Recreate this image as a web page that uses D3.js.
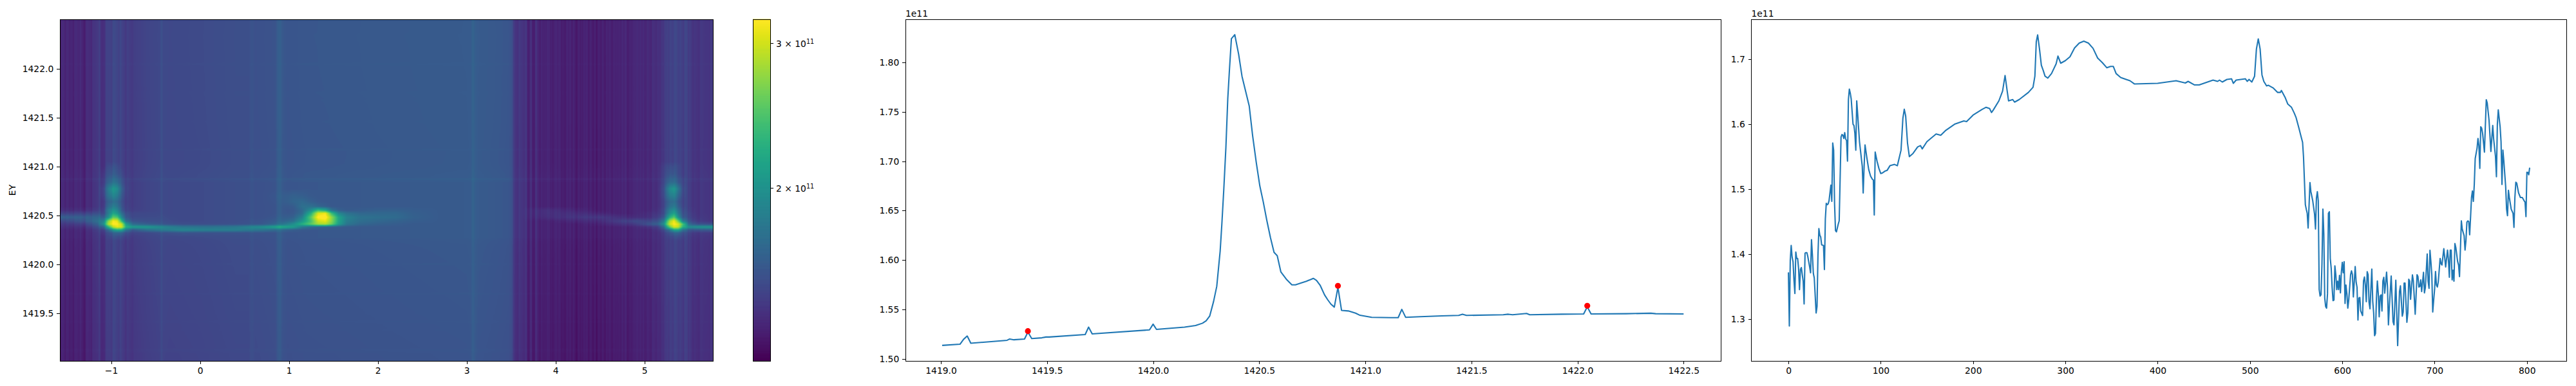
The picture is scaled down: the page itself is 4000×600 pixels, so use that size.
<!DOCTYPE html>
<html><head><meta charset="utf-8">
<script src="https://cdn.jsdelivr.net/npm/d3@7/dist/d3.min.js"></script>
<style>html,body{margin:0;padding:0;background:#fff}svg{display:block}text{font-family:"DejaVu Sans",sans-serif;font-size:13.89px;fill:#000}</style>
</head><body><svg id="fig" width="4000" height="600"></svg>
<script>
// EDC: energy, intensity (1e11)
const edcPoints=[[1419.006,1.5135],[1419.09,1.5147],[1419.107,1.5197],[1419.124,1.523],[1419.141,1.5157],[1419.2,1.5167],[1419.312,1.5187],[1419.324,1.52],[1419.344,1.5192],[1419.394,1.52],[1419.41,1.527],[1419.428,1.5205],[1419.476,1.5212],[1419.495,1.522],[1419.51,1.522],[1419.68,1.5245],[1419.696,1.532],[1419.713,1.5252],[1419.983,1.5292],[1420,1.535],[1420.016,1.5297],[1420.148,1.532],[1420.2,1.5337],[1420.233,1.536],[1420.25,1.5384],[1420.267,1.5434],[1420.285,1.558],[1420.3,1.5733],[1420.316,1.609],[1420.324,1.6364],[1420.333,1.671],[1420.343,1.7137],[1420.352,1.7636],[1420.36,1.7935],[1420.369,1.8242],[1420.385,1.8282],[1420.403,1.8085],[1420.419,1.786],[1420.436,1.771],[1420.453,1.756],[1420.469,1.726],[1420.486,1.699],[1420.503,1.675],[1420.519,1.659],[1420.536,1.64],[1420.553,1.6227],[1420.57,1.6077],[1420.585,1.6044],[1420.602,1.588],[1420.63,1.58],[1420.654,1.5749],[1420.671,1.5749],[1420.696,1.5766],[1420.722,1.5784],[1420.755,1.5814],[1420.77,1.5794],[1420.787,1.5745],[1420.808,1.5647],[1420.823,1.5597],[1420.838,1.5553],[1420.854,1.5523],[1420.871,1.5723],[1420.888,1.549],[1420.92,1.5484],[1420.954,1.5462],[1420.975,1.544],[1421.03,1.5419],[1421.121,1.5416],[1421.155,1.5416],[1421.172,1.55],[1421.19,1.542],[1421.26,1.5426],[1421.36,1.5434],[1421.44,1.5439],[1421.458,1.5451],[1421.477,1.5439],[1421.65,1.5446],[1421.674,1.5451],[1421.694,1.5446],[1421.76,1.5459],[1421.775,1.5446],[1421.926,1.5451],[1422.029,1.5454],[1422.046,1.5525],[1422.064,1.5454],[1422.23,1.5456],[1422.346,1.5461],[1422.368,1.5456],[1422.5,1.5454]];
const peakPoints=[[1419.41,1.528],[1420.871,1.5738],[1422.046,1.5536]];
// MDC: index, intensity (1e11)
const mdcPoints=[[0,1.3716],[1,1.289],[2,1.39],[3,1.413],[4,1.395],[5,1.388],[6,1.36],[7,1.339],[8,1.403],[9,1.393],[10,1.393],[11,1.378],[12,1.345],[13,1.376],[14,1.379],[15,1.368],[16,1.358],[17,1.323],[18,1.401],[19,1.402],[20,1.402],[21,1.396],[22,1.388],[23,1.38],[24,1.371],[25,1.422],[26,1.398],[27,1.37],[28,1.363],[30,1.309],[31,1.319],[32,1.398],[33,1.439],[34,1.429],[35,1.426],[36,1.414],[38,1.413],[39,1.376],[40,1.454],[41,1.478],[42,1.476],[43,1.477],[44,1.482],[46,1.506],[47,1.481],[48,1.571],[49,1.56],[50,1.477],[51,1.436],[52,1.434],[54,1.446],[55,1.451],[57,1.58],[58,1.584],[59,1.583],[60,1.578],[61,1.587],[62,1.577],[63,1.575],[64,1.543],[65,1.638],[66,1.654],[67,1.648],[68,1.639],[70,1.6],[71,1.598],[72,1.586],[73,1.56],[74,1.636],[75,1.616],[77,1.573],[80,1.535],[81,1.494],[82,1.535],[83,1.568],[85,1.548],[87,1.53],[89,1.52],[91,1.515],[92,1.514],[93,1.46],[94,1.557],[96,1.543],[98,1.532],[100,1.524],[102,1.525],[105,1.528],[107,1.529],[110,1.536],[115,1.538],[118,1.536],[120,1.548],[122,1.56],[124,1.609],[125.5,1.623],[127,1.613],[129,1.571],[131,1.55],[135,1.555],[140,1.565],[143,1.567],[145,1.562],[150,1.573],[160,1.585],[165,1.583],[170,1.59],[180,1.6],[190,1.605],[193,1.604],[200,1.614],[210,1.623],[214,1.626],[218,1.624],[220,1.618],[222,1.622],[228,1.636],[232,1.651],[234.7,1.675],[237,1.651],[238.5,1.636],[243,1.638],[245,1.634],[250,1.638],[260,1.649],[265,1.657],[267,1.674],[268.5,1.727],[270,1.7376],[272,1.716],[274,1.691],[276,1.683],[278,1.674],[281,1.671],[285,1.678],[290,1.693],[292,1.705],[295,1.694],[300,1.698],[305,1.704],[310,1.7175],[315,1.725],[320,1.728],[325,1.725],[330,1.717],[335,1.702],[340,1.695],[345,1.687],[349,1.689],[352,1.689],[355,1.678],[360,1.672],[370,1.667],[375,1.662],[400,1.663],[410,1.665],[420,1.667],[430,1.6635],[433,1.666],[440,1.6605],[445,1.6605],[450,1.663],[460,1.668],[465,1.666],[467,1.668],[470,1.665],[475,1.669],[480,1.67],[482,1.663],[485,1.668],[495,1.67],[497,1.666],[499,1.669],[502,1.665],[505,1.674],[507,1.716],[509,1.7315],[511,1.716],[513,1.676],[515,1.666],[518,1.659],[520,1.66],[525,1.656],[530,1.649],[533,1.649],[534,1.652],[538,1.6415],[541,1.631],[545,1.626],[548,1.617],[550,1.61],[553,1.594],[555,1.583],[557,1.572],[558,1.55],[560,1.476],[561,1.469],[562,1.463],[563,1.44],[564,1.474],[565,1.51],[566,1.496],[568,1.482],[570,1.461],[571,1.4385],[572,1.486],[573,1.496],[574,1.482],[575,1.345],[576,1.335],[577,1.337],[578,1.385],[579,1.469],[580,1.431],[581,1.332],[582,1.319],[583,1.3165],[584,1.3386],[585,1.4626],[586,1.465],[587,1.393],[588,1.378],[589,1.3485],[590,1.328],[591,1.329],[592,1.3816],[593,1.368],[594,1.345],[595,1.358],[596,1.345],[597,1.367],[598,1.34],[599,1.3717],[600,1.387],[601,1.371],[602,1.388],[603,1.3237],[604,1.352],[605,1.3386],[606,1.3165],[607,1.329],[609,1.368],[610,1.374],[611,1.368],[612,1.3337],[614,1.3806],[615,1.3568],[616,1.3485],[617,1.298],[618,1.332],[619,1.333],[620,1.312],[622,1.305],[623,1.3584],[624,1.3644],[625,1.352],[626,1.3264],[627,1.3726],[628,1.368],[629,1.3254],[630,1.3155],[632,1.3766],[633,1.327],[634,1.309],[635,1.274],[636,1.2775],[637,1.332],[638,1.3584],[639,1.3386],[640,1.303],[641,1.335],[642,1.337],[643,1.312],[644,1.3584],[645,1.364],[646,1.3396],[648,1.372],[649,1.3485],[650,1.2907],[651,1.3188],[653,1.366],[655,1.2956],[656,1.2907],[658,1.3594],[660,1.2586],[662,1.342],[663,1.3508],[665,1.304],[666,1.3105],[667,1.355],[668,1.355],[670,1.2946],[671,1.309],[672,1.361],[673,1.3584],[674,1.33],[676,1.3677],[677,1.3584],[679,1.307],[681,1.368],[682,1.365],[683,1.349],[684,1.35],[685,1.36],[686,1.342],[688,1.3716],[689,1.34],[690,1.348],[692,1.40],[693,1.358],[694,1.347],[695,1.4057],[696,1.388],[697,1.368],[698,1.3105],[699,1.3286],[700,1.345],[701,1.373],[702,1.352],[703,1.349],[704,1.357],[706,1.393],[707,1.385],[708,1.383],[710,1.408],[712,1.38],[714,1.406],[715,1.391],[716,1.364],[717,1.406],[718,1.406],[719,1.36],[720,1.375],[721,1.358],[722,1.416],[723,1.41],[725,1.388],[726,1.383],[727,1.365],[729,1.451],[730,1.438],[732,1.428],[733,1.406],[734,1.421],[735,1.449],[736,1.451],[737,1.45],[738,1.4295],[739,1.4576],[740,1.487],[741,1.497],[742,1.481],[743,1.507],[744,1.547],[746,1.563],[747,1.578],[748,1.567],[749,1.532],[750,1.596],[751,1.594],[752,1.586],[754,1.557],[756,1.6377],[757,1.633],[759,1.606],[761,1.558],[763,1.598],[764,1.577],[766,1.55],[767,1.519],[768,1.6],[769,1.622],[771,1.596],[772,1.573],[773,1.507],[774,1.56],[775,1.5435],[777,1.504],[778,1.469],[779,1.459],[780,1.498],[781,1.487],[783,1.469],[785,1.4626],[786,1.441],[787,1.487],[788,1.5105],[789,1.509],[791,1.494],[793,1.487],[795,1.487],[797,1.482],[798,1.48],[799,1.4575],[800,1.526],[801,1.5256],[802,1.522],[803,1.533]];
// Column level of the bright middle of the heat map: index, intensity (1e11)
const midColumnPoints=[[90,1.47],[107,1.50],[120,1.515],[123,1.52],[125,1.565],[127,1.525],[135,1.52],[172,1.53],[216,1.55],[232,1.55],[236,1.58],[240,1.56],[265,1.575],[268,1.63],[271,1.645],[274,1.60],[280,1.585],[303,1.595],[391,1.605],[500,1.615],[505,1.62],[508,1.665],[511,1.63],[515,1.615],[540,1.60],[552,1.59],[556,1.56],[558,1.46]];
// Intensity above the column level around the band, hundredths of 1e11
const bandX=[-1.58,-1.3,-1.15,-1.08,-1.03,-0.98,-0.93,-0.88,-0.83,-0.75,-0.6,-0.4,-0.2,0.1,0.4,0.7,0.9,1.05,1.15,1.25,1.33,1.41,1.48,1.56,1.65,1.8,2.0,2.2,2.4,2.7,3.6,3.9,4.2,4.5,4.7,4.9,5.05,5.15,5.22,5.28,5.33,5.38,5.43,5.5,5.6,5.77];
const bandE=[1421.05,1421.0,1420.92,1420.84,1420.77,1420.70,1420.64,1420.59,1420.55,1420.52,1420.48,1420.44,1420.41,1420.38,1420.35,1420.32,1420.28,1420.24];
const bandLevels=[
[0,0,0,0,0,0,0,0,0,0,0,0,0,0,0,0,0,0,0,0,0,0,0,0,0,0,0,0,0,0,0,0,0,0,0,0,0,0,0,0,0,0,0,0,0,0],
[0,0,0,0,4,5,4,0,0,0,0,0,0,0,0,0,0,0,0,0,0,0,0,0,0,0,0,0,0,0,0,0,0,0,0,0,0,0,3,5,5,3,0,0,0,0],
[0,0,0,3,8,10,8,3,0,0,0,0,0,0,0,0,0,0,0,0,0,0,0,0,0,0,0,0,0,0,0,0,0,0,0,0,0,0,4,9,9,4,0,0,0,0],
[0,0,0,5,15,22,20,8,2,0,0,0,0,0,0,0,0,0,0,0,0,0,0,0,0,0,0,0,0,0,0,0,0,0,0,0,0,0,6,18,20,10,3,0,0,0],
[0,0,0,10,32,48,42,15,3,0,0,0,0,0,0,0,0,0,0,0,0,0,0,0,0,0,0,0,0,0,0,0,0,0,0,0,0,0,10,40,50,28,6,0,0,0],
[0,0,0,8,25,35,30,10,2,0,0,0,0,0,0,0,2,6,4,1,0,0,0,0,0,0,0,0,0,0,0,0,0,0,0,0,0,0,8,30,36,18,4,0,0,0],
[0,0,0,4,15,20,18,6,1,0,0,0,0,0,0,0,1,8,10,4,1,0,0,0,0,0,0,0,0,0,0,0,0,0,0,0,0,0,5,18,22,10,2,0,0,0],
[0,0,0,5,20,30,25,8,2,0,0,0,0,0,0,0,0,3,14,14,8,4,0,0,0,0,0,0,0,0,0,0,0,0,0,0,0,0,5,22,30,14,3,0,0,0],
[3,3,3,8,32,45,38,12,3,1,0,0,0,0,0,0,0,1,10,35,70,55,18,5,1,2,4,4,2,0,0,5,3,0,0,0,0,1,8,34,45,24,6,1,0,0],
[10,12,10,10,32,58,50,22,8,4,2,0,0,0,0,0,0,2,12,60,130,140,70,28,15,8,8,8,3,0,0,5,6,3,0,0,2,3,8,40,58,30,8,3,0,0],
[25,25,22,22,45,90,85,38,12,5,3,1,0,0,0,0,2,6,25,85,150,155,105,50,25,15,12,10,4,0,0,4,8,10,5,2,3,6,15,65,90,45,12,4,1,0],
[12,20,28,45,110,150,145,75,25,10,5,2,0,0,0,2,5,15,40,75,125,135,100,50,22,12,8,5,2,0,0,0,3,5,10,14,12,15,35,115,150,100,38,10,3,0],
[6,10,20,55,125,155,155,130,55,22,12,5,2,1,1,3,12,35,60,85,110,115,90,45,18,8,4,2,0,0,0,0,0,2,5,8,18,22,50,130,155,140,90,22,12,10],
[3,4,10,25,70,120,145,135,70,55,50,35,25,22,24,38,55,45,20,10,6,4,3,2,1,0,0,0,0,0,0,0,0,0,0,1,4,6,25,90,135,130,75,45,52,55],
[0,1,3,8,20,45,65,60,30,12,22,28,35,30,28,20,10,4,1,0,0,0,0,0,0,0,0,0,0,0,0,0,0,0,0,0,0,2,8,25,55,60,28,12,15,18],
[0,0,1,3,6,12,16,15,8,3,2,3,5,3,2,1,0,0,0,0,0,0,0,0,0,0,0,0,0,0,0,0,0,0,0,0,0,0,2,8,14,16,8,3,2,2],
[0,0,0,0,2,4,5,4,2,0,0,0,0,0,0,0,0,0,0,0,0,0,0,0,0,0,0,0,0,0,0,0,0,0,0,0,0,0,0,2,4,5,2,0,0,0],
[0,0,0,0,0,0,0,0,0,0,0,0,0,0,0,0,0,0,0,0,0,0,0,0,0,0,0,0,0,0,0,0,0,0,0,0,0,0,0,0,0,0,0,0,0,0]];
const heatXTicks=[-1,0,1,2,3,4,5];
const heatYTicks=[1419.5,1420,1420.5,1421,1421.5,1422];
const edcXTicks=[1419,1419.5,1420,1420.5,1421,1421.5,1422,1422.5];
const edcYTicks=[1.5,1.55,1.6,1.65,1.7,1.75,1.8];
const mdcXTicks=[0,100,200,300,400,500,600,700,800];
const mdcYTicks=[1.3,1.4,1.5,1.6,1.7];
const cbarTicks=[2,3];

const svg=d3.select("#fig");
const colour=d3.scaleSequentialLog(d3.interpolateViridis).domain([1.234,3.21]).clamp(true);

function frame(b){svg.append("rect").attr("x",b.l).attr("y",b.t).attr("width",b.r-b.l).attr("height",b.b-b.t).attr("fill","none").attr("stroke","#000").attr("stroke-width",1).attr("shape-rendering","crispEdges");}
function axes(b,x,y,xt,yt,xf,yf){
  const ax=svg.append("g").attr("transform",`translate(0,${b.b})`).call(d3.axisBottom(x).tickValues(xt).tickFormat(xf).tickSize(4.86).tickPadding(4.86));
  const ay=svg.append("g").attr("transform",`translate(${b.l},0)`).call(d3.axisLeft(y).tickValues(yt).tickFormat(yf).tickSize(4.86).tickPadding(4.86));
  for(const a of [ax,ay]){a.attr("font-family",null).attr("font-size",null);a.select(".domain").remove();a.selectAll("line").attr("stroke","#000").attr("stroke-width",1).attr("shape-rendering","crispEdges");a.selectAll("text").attr("fill","#000");}
  frame(b);
}
const minus=s=>s.replace("-","\u2212");

// ---- heat map
const H={l:93,r:1107,t:30,b:561};
const hx=d3.scaleLinear().domain([-1.576,5.77]).range([H.l,H.r]);
const hy=d3.scaleLinear().domain([1419.01,1422.505]).range([H.b,H.t]);
const colOf=d3.scaleLinear().domain([-1.576,5.77]).range([0,803]);
const mdcAt=d3.scaleLinear().domain(mdcPoints.map(d=>d[0])).range(mdcPoints.map(d=>d[1])).clamp(true);
const midAt=d3.scaleLinear().domain(midColumnPoints.map(d=>d[0])).range(midColumnPoints.map(d=>d[1])).clamp(true);
const edcAt=d3.scaleLinear().domain(edcPoints.map(d=>d[0])).range(edcPoints.map(d=>d[1])).clamp(true);
const kx=d3.scaleLinear().domain(bandX).range(d3.range(bandX.length)).clamp(true);
const ke=d3.scaleLinear().domain(bandE).range(d3.range(bandE.length)).clamp(true);
const columnLevel=c=>(c>=90&&c<=558)?midAt(c):1.35+(mdcAt(c)-1.35)*0.6;
const cv=document.createElement("canvas");cv.width=H.r-H.l;cv.height=H.b-H.t;
const ctx=cv.getContext("2d");const img=ctx.createImageData(cv.width,cv.height);
for(let j=0;j<cv.height;j++){
  const E=hy.invert(H.t+j+.5);
  const gain=(E<1420.27||E>1420.84)?edcAt(E)/1.5454:1;
  const fe=ke(E),e0=Math.min(Math.floor(fe),bandE.length-2),te=fe-e0;
  for(let i=0;i<cv.width;i++){
    const X=hx.invert(H.l+i+.5);
    const fx=kx(X),x0=Math.min(Math.floor(fx),bandX.length-2),tx=fx-x0;
    const R0=bandLevels[e0],R1=bandLevels[e0+1];
    const ex=(R0[x0]*(1-tx)+R0[x0+1]*tx)*(1-te)+(R1[x0]*(1-tx)+R1[x0+1]*tx)*te;
    const c=d3.rgb(colour(columnLevel(colOf(X))*gain+1.1*ex/100));
    const k=(j*cv.width+i)*4;img.data[k]=c.r;img.data[k+1]=c.g;img.data[k+2]=c.b;img.data[k+3]=255;
  }
}
ctx.putImageData(img,0,0);
svg.append("image").attr("x",H.l).attr("y",H.t).attr("width",cv.width).attr("height",cv.height).attr("href",cv.toDataURL());
axes(H,hx,hy,heatXTicks,heatYTicks,d=>minus(String(d)),d3.format(".1f"));
svg.append("text").attr("transform",`translate(20,${(H.t+H.b)/2}) rotate(-90)`).attr("text-anchor","middle").attr("dominant-baseline","middle").text("EY");

// ---- colour bar
const C={l:1169,r:1196.5,t:30,b:561};
const cy=d3.scaleLog().domain([1.234,3.21]).range([C.b,C.t]);
const steps=d3.range(256).map(i=>1.234*Math.pow(3.21/1.234,i/256));
svg.append("g").selectAll("rect").data(steps).join("rect")
  .attr("x",C.l).attr("width",C.r-C.l).attr("y",d=>cy(d)-(C.b-C.t)/256-.5).attr("height",(C.b-C.t)/256+1).attr("fill",d=>colour(d));
frame(C);
const ct=svg.append("g").selectAll("g").data(cbarTicks).join("g").attr("transform",d=>`translate(${C.r},${cy(d)})`);
ct.append("line").attr("x2",4.86).attr("stroke","#000").attr("stroke-width",1).attr("shape-rendering","crispEdges");
const ctt=ct.append("text").attr("x",8.5).attr("y",5.5);
ctt.append("tspan").text(d=>d+" \u00d7 10");
ctt.append("tspan").attr("dy",-5.5).style("font-size","9.7px").text("11");

// ---- EDC
const P={l:1406,r:2672.6,t:30,b:561};
const px=d3.scaleLinear().domain([1418.833,1422.677]).range([P.l,P.r]);
const py=d3.scaleLinear().domain([1.4978,1.8438]).range([P.b,P.t]);
svg.append("path").attr("fill","none").attr("stroke","#1f77b4").attr("stroke-width",2.08).attr("stroke-linejoin","round")
  .attr("d",d3.line().x(d=>px(d[0])).y(d=>py(d[1]))(edcPoints));
svg.append("g").selectAll("circle").data(peakPoints).join("circle").attr("cx",d=>px(d[0])).attr("cy",d=>py(d[1])).attr("r",4.6).attr("fill","#ff0000");
axes(P,px,py,edcXTicks,edcYTicks,d3.format(".1f"),d3.format(".2f"));
svg.append("text").attr("x",P.l).attr("y",26).text("1e11");

// ---- MDC
const M={l:2719.5,r:3985.6,t:30,b:561};
const mx=d3.scaleLinear().domain([-40.15,843.15]).range([M.l,M.r]);
const my=d3.scaleLinear().domain([1.2351,1.7617]).range([M.b,M.t]);
svg.append("path").attr("fill","none").attr("stroke","#1f77b4").attr("stroke-width",2.08).attr("stroke-linejoin","round")
  .attr("d",d3.line().x(d=>mx(d[0])).y(d=>my(d[1]))(mdcPoints));
axes(M,mx,my,mdcXTicks,mdcYTicks,d3.format("d"),d3.format(".1f"));
svg.append("text").attr("x",M.l).attr("y",26).text("1e11");
</script></body></html>
